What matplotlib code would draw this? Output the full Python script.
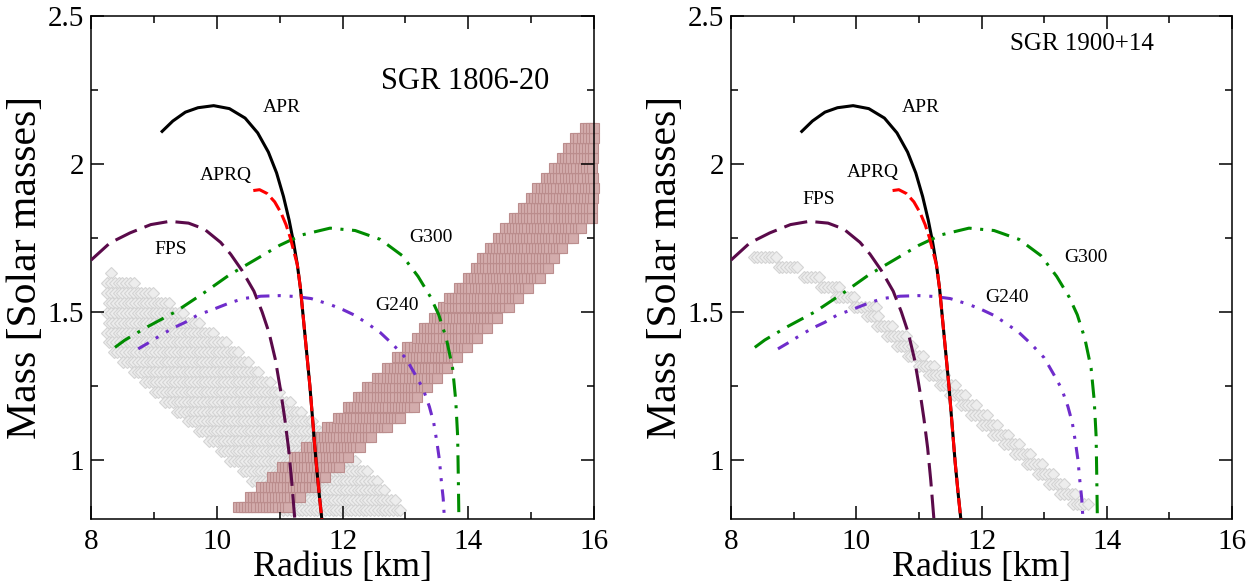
import numpy as np
import matplotlib.pyplot as plt
from matplotlib.ticker import MultipleLocator, FuncFormatter

plt.rcParams['font.family'] = ['Liberation Serif', 'DejaVu Serif']

# mass-radius relations, R in km, M in solar masses
apr_r = [9.13, 9.3, 9.5, 9.7, 9.95, 10.2, 10.45, 10.65, 10.82, 10.95, 11.06,
         11.15, 11.22, 11.28, 11.33, 11.38, 11.43, 11.48, 11.53, 11.58, 11.63,
         11.67]
apr_m = [2.11, 2.145, 2.175, 2.19, 2.197, 2.187, 2.155, 2.105, 2.04, 1.97,
         1.89, 1.81, 1.735, 1.66, 1.58, 1.47, 1.36, 1.25, 1.12, 0.99, 0.88,
         0.80]

aprq_r = [10.58, 10.68, 10.8, 10.92, 11.02, 11.1, 11.17, 11.23, 11.28, 11.33,
          11.38, 11.43, 11.48, 11.53, 11.58, 11.63, 11.67]
aprq_m = [1.91, 1.913, 1.90, 1.872, 1.835, 1.795, 1.75, 1.70, 1.66, 1.58,
          1.47, 1.36, 1.25, 1.12, 0.99, 0.88, 0.80]

fps_r = [8.0, 8.3, 8.62, 8.95, 9.25, 9.55, 9.8, 10.06, 10.22, 10.4, 10.59,
         10.72, 10.83, 10.93, 11.01, 11.08, 11.14, 11.19, 11.24]
fps_m = [1.675, 1.733, 1.767, 1.795, 1.806, 1.80, 1.78, 1.735, 1.695, 1.64,
         1.57, 1.50, 1.43, 1.34, 1.24, 1.14, 1.04, 0.93, 0.80]

g300_r = [8.38, 8.54, 8.9, 9.34, 9.8, 10.2, 10.6, 11.0, 11.35, 11.8, 12.2,
          12.6, 12.95, 13.2, 13.4, 13.53, 13.65, 13.75, 13.8, 13.83, 13.84,
          13.85]
g300_m = [1.38, 1.405, 1.45, 1.50, 1.565, 1.625, 1.675, 1.725, 1.76, 1.783,
          1.775, 1.745, 1.69, 1.62, 1.55, 1.49, 1.41, 1.31, 1.20, 1.08, 0.95,
          0.80]

g240_r = [8.75, 8.91, 9.1, 9.3, 9.5, 9.7, 9.9, 10.2, 10.42, 10.7, 11.0,
          11.25, 11.5, 11.8, 12.0, 12.2, 12.4, 12.6, 12.8, 13.0, 13.15, 13.28,
          13.38, 13.45, 13.5, 13.54, 13.57, 13.60, 13.62]
g240_m = [1.375, 1.395, 1.42, 1.445, 1.465, 1.49, 1.505, 1.53, 1.545, 1.553,
          1.555, 1.552, 1.545, 1.525, 1.508, 1.488, 1.46, 1.43, 1.39, 1.345,
          1.29, 1.24, 1.18, 1.125, 1.06, 1.00, 0.93, 0.87, 0.80]

# allowed regions, stored as rows of constant mass: mass, first R, last R
sgr1806_grey_m = [1.630, 1.597, 1.563, 1.530, 1.497, 1.463, 1.430, 1.397,
                  1.363, 1.330, 1.297, 1.263, 1.230, 1.197, 1.163, 1.130,
                  1.097, 1.063, 1.030, 0.997, 0.963, 0.930, 0.897, 0.863,
                  0.830]
sgr1806_grey_r0 = [8.25, 8.20, 8.20, 8.22, 8.20, 8.22, 8.20, 8.22, 8.30, 8.45,
                   8.62, 8.80, 8.95, 9.12, 9.30, 9.48, 9.65, 9.82, 10.00,
                   10.15, 10.35, 10.50, 10.68, 10.85, 11.00]
sgr1806_grey_r1 = [8.40, 8.75, 9.05, 9.30, 9.55, 9.80, 10.00, 10.22, 10.42,
                   10.60, 10.75, 10.92, 11.08, 11.25, 11.42, 11.60, 11.78,
                   11.95, 12.12, 12.28, 12.45, 12.60, 12.75, 12.90, 13.00]

sgr1806_box_m = [0.840, 0.874, 0.907, 0.941, 0.975, 1.008, 1.042, 1.076,
                 1.110, 1.143, 1.177, 1.211, 1.245, 1.278, 1.312, 1.346,
                 1.380, 1.413, 1.447, 1.481, 1.515, 1.548, 1.582, 1.616,
                 1.650, 1.683, 1.717, 1.751, 1.785, 1.818, 1.852, 1.886,
                 1.920, 1.953, 1.987, 2.021, 2.055, 2.088, 2.122]
sgr1806_box_r0 = [10.26, 10.45, 10.64, 10.80, 10.97, 11.16, 11.35, 11.53,
                  11.69, 11.85, 12.01, 12.17, 12.32, 12.48, 12.64, 12.80,
                  12.96, 13.12, 13.22, 13.38, 13.52, 13.62, 13.78, 13.92,
                  14.05, 14.15, 14.27, 14.40, 14.52, 14.65, 14.80, 14.92,
                  15.03, 15.16, 15.30, 15.42, 15.52, 15.63, 15.78]
sgr1806_box_r1 = [11.20, 11.43, 11.64, 11.82, 12.02, 12.17, 12.36, 12.55,
                  12.80, 13.02, 13.20, 13.30, 13.44, 13.60, 13.75, 13.90,
                  14.05, 14.22, 14.38, 14.55, 14.72, 14.88, 15.05, 15.22,
                  15.35, 15.48, 15.60, 15.74, 15.86, 16.00, 16.00, 16.00,
                  16.00, 16.00, 16.00, 16.00, 16.00, 16.00, 16.00]

sgr1900_grey_m = [1.685, 1.652, 1.618, 1.585, 1.551, 1.518, 1.485, 1.452,
                  1.418, 1.385, 1.352, 1.318, 1.285, 1.252, 1.218, 1.185,
                  1.152, 1.118, 1.085, 1.052, 1.018, 0.985, 0.952, 0.918,
                  0.885, 0.852]
sgr1900_grey_r0 = [8.30, 8.70, 9.10, 9.37, 9.61, 9.90, 10.11, 10.27, 10.43,
                   10.59, 10.76, 10.94, 11.10, 11.27, 11.44, 11.61, 11.78,
                   11.95, 12.13, 12.30, 12.48, 12.66, 12.84, 13.02, 13.20,
                   13.40]
sgr1900_grey_r1 = [8.83, 9.15, 9.47, 9.79, 10.06, 10.38, 10.43, 10.65, 10.86,
                   10.97, 11.16, 11.33, 11.50, 11.66, 11.83, 12.00, 12.17,
                   12.34, 12.52, 12.70, 12.88, 13.05, 13.23, 13.41, 13.59,
                   13.76]


def region(ax, masses, r0, r1, step, marker, fc, ec, ms, edge):
    for m, a, b in zip(masses, r0, r1):
        a = a + edge
        b = b if b >= 16 else b - edge   # rows cut by the R = 16 boundary
        rr = np.arange(a, b + 1e-6, step) if b > a else np.array([(a + b) / 2])
        ax.plot(rr, np.full(len(rr), m), ls='none', marker=marker, ms=ms,
                mfc=fc, mec=ec, mew=0.8, clip_on=False, zorder=1)


def curves(ax):
    lw = 2.2
    ax.plot(apr_r, apr_m, color='black', lw=lw, zorder=3)
    ax.plot(aprq_r, aprq_m, color='#ff0000', lw=lw, ls=(0, (5, 1.7)), zorder=4)
    ax.plot(fps_r, fps_m, color='#5a0a4a', lw=lw, ls=(0, (7.7, 2.7)), zorder=3)
    ax.plot(g300_r, g300_m, color='#008c00', lw=lw,
            ls=(0, (6, 2.8, 1, 2.8)), zorder=3)
    ax.plot(g240_r, g240_m, color='#6f2ccb', lw=lw,
            ls=(0, (4, 2.7, 1, 2.9, 1, 2.7)), zorder=3)


def style(ax):
    ax.set_xlim(8, 16)
    ax.set_ylim(0.8, 2.5)
    ax.xaxis.set_major_locator(MultipleLocator(2))
    ax.xaxis.set_minor_locator(MultipleLocator(1))
    ax.yaxis.set_major_locator(MultipleLocator(0.5))
    ax.yaxis.set_minor_locator(MultipleLocator(0.25))
    ax.yaxis.set_major_formatter(FuncFormatter(lambda v, p: '%g' % v))
    ax.tick_params(which='both', direction='in', top=True, right=True,
                   width=1.1, labelsize=21)
    ax.tick_params(which='major', length=9.5)
    ax.tick_params(which='minor', length=5)
    ax.tick_params(axis='x', pad=7)
    ax.tick_params(axis='y', pad=5)
    for s in ax.spines.values():
        s.set_linewidth(1.1)
    ax.set_xlabel('Radius [km]', fontsize=26, labelpad=-3)
    ax.set_ylabel('Mass [Solar masses]', fontsize=30, labelpad=2)


fig = plt.figure(figsize=(12.56, 5.84), dpi=100)
ax1 = fig.add_axes([0.0725, 0.1113, 0.4005, 0.8613])
ax2 = fig.add_axes([0.582, 0.1113, 0.3989, 0.8613])

# SGR 1806-20
region(ax1, sgr1806_grey_m, sgr1806_grey_r0, sgr1806_grey_r1, 0.06, 'D',
       '#ededed', '#d4d4d4', 6, 0.06)
region(ax1, sgr1806_box_m, sgr1806_box_r0, sgr1806_box_r1, 0.05, 's',
       '#d3acac', '#bb8d8d', 7, 0.07)
curves(ax1)
style(ax1)
lab = 14
ax1.text(13.95, 2.28, 'SGR 1806-20', fontsize=22, ha='center', va='center')
ax1.text(11.03, 2.19, 'APR', fontsize=lab, ha='center', va='center')
ax1.text(10.15, 1.96, 'APRQ', fontsize=lab, ha='center', va='center')
ax1.text(9.27, 1.71, 'FPS', fontsize=lab, ha='center', va='center')
ax1.text(13.40, 1.75, 'G300', fontsize=lab, ha='center', va='center')
ax1.text(12.86, 1.52, 'G240', fontsize=lab, ha='center', va='center')

# SGR 1900+14
region(ax2, sgr1900_grey_m, sgr1900_grey_r0, sgr1900_grey_r1, 0.06, 'D',
       '#ededed', '#d4d4d4', 6, 0.06)
curves(ax2)
style(ax2)
ax2.text(13.61, 2.405, 'SGR 1900+14', fontsize=18, ha='center', va='center')
ax2.text(11.03, 2.19, 'APR', fontsize=lab, ha='center', va='center')
ax2.text(10.26, 1.97, 'APRQ', fontsize=lab, ha='center', va='center')
ax2.text(9.40, 1.88, 'FPS', fontsize=lab, ha='center', va='center')
ax2.text(13.66, 1.685, 'G300', fontsize=lab, ha='center', va='center')
ax2.text(12.41, 1.55, 'G240', fontsize=lab, ha='center', va='center')

fig.savefig('out.png', dpi=100)
